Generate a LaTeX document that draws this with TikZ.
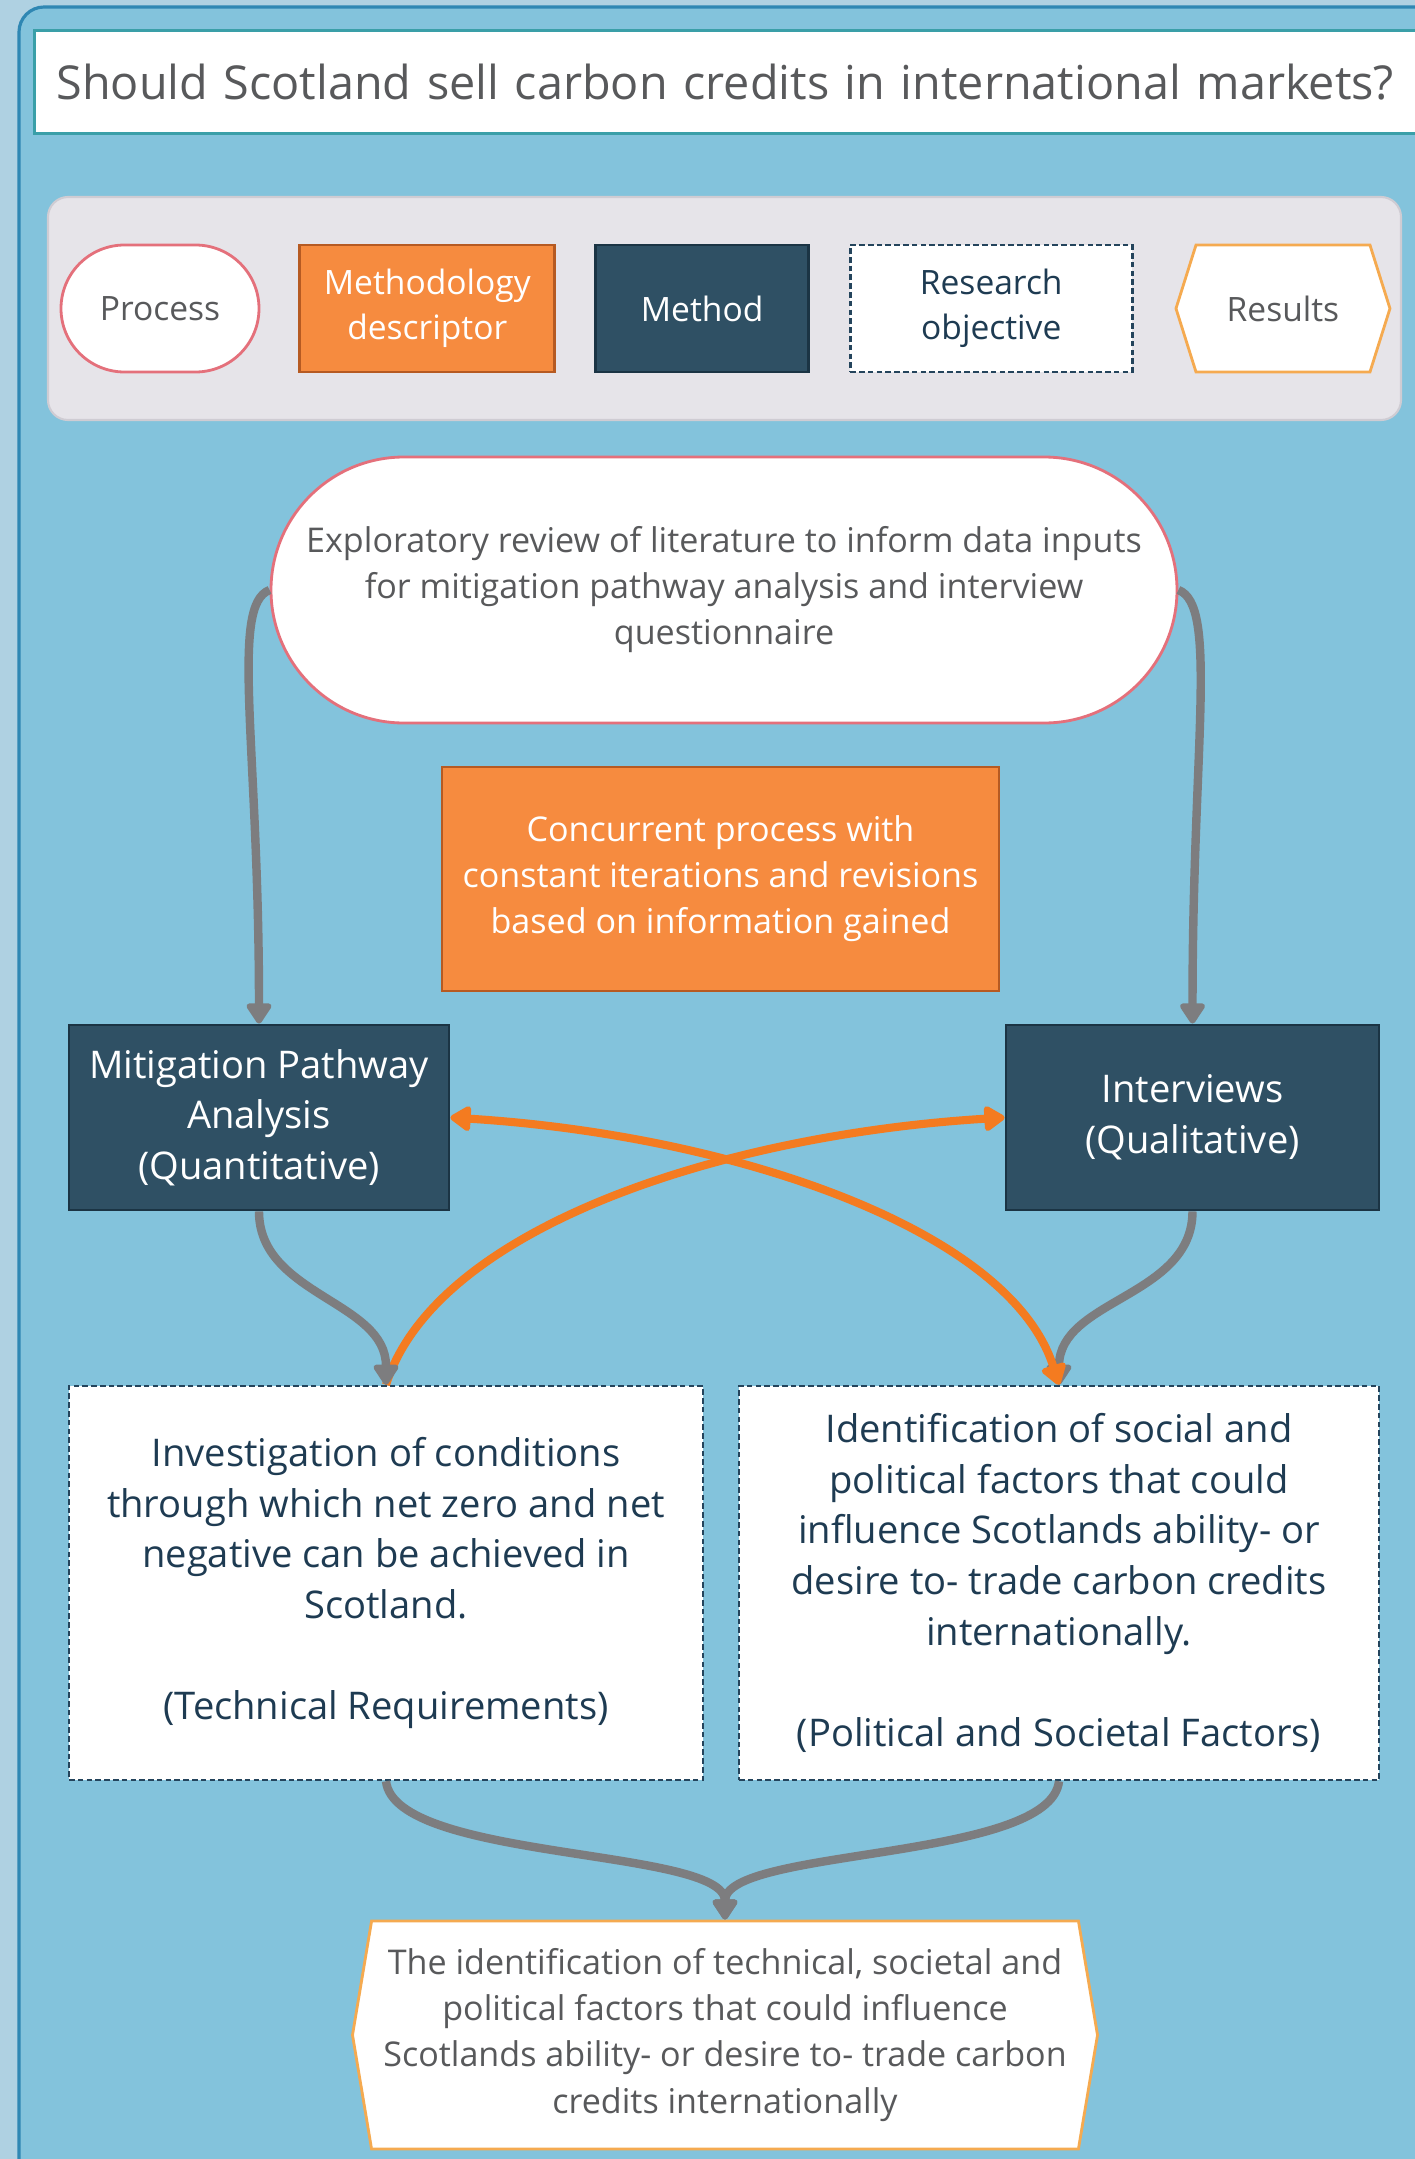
\documentclass[tikz,border=0pt]{standalone}
\usepackage{fontspec}
\setmainfont{Open Sans}
\usetikzlibrary{positioning, arrows.meta, shapes.misc, shapes.symbols}

\definecolor{paleedge}{HTML}{AFD1E2}
\definecolor{skyfill}{HTML}{83C3DC}
\definecolor{skyedge}{HTML}{2F87B3}
\definecolor{titleline}{HTML}{3A9FA8}
\definecolor{legendbg}{HTML}{E6E4E9}
\definecolor{legendln}{HTML}{CFCCD3}
\definecolor{procline}{HTML}{E4707B}
\definecolor{descfill}{HTML}{F68B3F}
\definecolor{descline}{HTML}{B65A22}
\definecolor{methfill}{HTML}{2F5064}
\definecolor{methline}{HTML}{1B3444}
\definecolor{objline}{HTML}{24445C}
\definecolor{objtext}{HTML}{1E3B52}
\definecolor{resline}{HTML}{F5AA50}
\definecolor{greytext}{HTML}{58595B}
\definecolor{flowgrey}{HTML}{7D7D7F}
\definecolor{floworange}{HTML}{F47B20}

\begin{document}
\begin{tikzpicture}[
		process/.style={rounded rectangle, draw=procline, line width=0.8pt, fill=white, text=greytext, align=center, inner sep=0pt},
		descriptor/.style={rectangle, draw=descline, line width=0.8pt, fill=descfill, text=white, align=center, inner sep=0pt},
		method/.style={rectangle, draw=methline, line width=0.8pt, fill=methfill, text=white, align=center, inner sep=0pt},
		objective/.style={rectangle, draw=objline, line width=0.7pt, dash pattern=on 1.6pt off 0.9pt, fill=white, text=objtext, align=center, inner sep=0pt},
		results/.style={signal, signal to=east and west, draw=resline, line width=0.8pt, fill=white, text=greytext, align=center, inner sep=0pt},
		keyitem/.style={minimum height=1.27cm, font=\fontsize{9.55}{12.8}\selectfont},
		smalltxt/.style={font=\fontsize{9.7}{13.1}\selectfont},
		bigtxt/.style={font=\fontsize{10.85}{14.4}\selectfont},
		greyflow/.style={draw=flowgrey, line width=2.4pt, -{Triangle[length=6.5pt,width=8pt,round]}},
		orangeflow/.style={draw=floworange, line width=2.3pt, >={Triangle[length=6.5pt,width=8pt,round]}}
	]
	\useasboundingbox (0,0) rectangle (14.15,-21.59);
	\clip (0,0) rectangle (14.15,-21.59);

	% background and frame
	\fill[paleedge] (0,0) rectangle (14.15,-21.59);
	\filldraw[fill=skyfill, draw=skyedge, line width=0.9pt, rounded corners=0.25cm] (0.19,-0.07) rectangle (15,-22.5);

	% question
	\node[draw=titleline, line width=0.8pt, fill=white, anchor=north west, minimum height=1.03cm,
		text width=13.6cm, inner xsep=0.22cm, align=left, text=greytext,
		font=\fontsize{13.3}{16}\selectfont] (question) at (0.33,-0.29)
		{Should Scotland sell carbon credits in international markets?};

	% key
	\filldraw[fill=legendbg, draw=legendln, line width=0.6pt, rounded corners=0.2cm] (0.48,-1.97) rectangle (14.01,-4.20);
	\node[process, keyitem, minimum width=1.98cm] (kproc) at (1.60,-3.085) {Process};
	\node[descriptor, keyitem, minimum width=2.55cm, right=0.38cm of kproc] (kdesc) {Methodology\\descriptor};
	\node[method, keyitem, minimum width=2.13cm, right=0.38cm of kdesc] (kmeth) {Method};
	\node[objective, keyitem, minimum width=2.82cm, right=0.39cm of kmeth] (kobj) {Research\\objective};
	\node[results, keyitem, minimum width=2.14cm, signal pointer angle=145, right=0.41cm of kobj] (kres) {Results};

	% flow
	\node[process, smalltxt, minimum width=9.06cm, minimum height=2.66cm] (review) at (7.24,-5.90)
		{Exploratory review of literature to inform data inputs\\for mitigation pathway analysis and interview\\questionnaire};
	\node[descriptor, smalltxt, minimum width=5.57cm, minimum height=2.24cm] (concur) at (7.205,-8.79)
		{Concurrent process with\\constant iterations and revisions\\based on information gained};
	\node[method, bigtxt, minimum width=3.80cm, minimum height=1.85cm] (mitig) at (2.59,-11.175)
		{Mitigation Pathway\\Analysis\\(Quantitative)};
	\node[method, bigtxt, minimum width=3.73cm, minimum height=1.85cm] (interv) at (11.925,-11.175)
		{Interviews\\(Qualitative)};
	\node[objective, bigtxt, minimum width=6.34cm, minimum height=3.94cm] (techn) at (3.86,-15.83)
		{Investigation of conditions\\through which net zero and net\\negative can be achieved in\\Scotland.\\[14.4pt](Technical Requirements)};
	\node[objective, bigtxt, minimum width=6.40cm, minimum height=3.94cm] (polit) at (10.59,-15.83)
		{Identification of social and\\political factors that could\\influence Scotlands ability- or\\desire to- trade carbon credits\\internationally.\\[14.4pt](Political and Societal Factors)};
	\node[results, smalltxt, minimum width=7.45cm, minimum height=2.28cm, signal pointer angle=161] (outcome) at (7.25,-20.35)
		{The identification of technical, societal and\\political factors that could influence\\Scotlands ability- or desire to- trade carbon\\credits internationally};

	% connectors
	\draw[greyflow] (review.west) .. controls +(-0.4,-0.15) and +(0,2.8) .. (mitig.north);
	\draw[greyflow] (review.east) .. controls +(0.4,-0.15) and +(0,2.8) .. (interv.north);
	\draw[orangeflow, ->] (techn.north) .. controls +(0.49,1.56) and +(-2.85,-0.175) .. (interv.west);
	\draw[greyflow] (mitig.south) to[out=-90,in=90] (techn.north);
	\draw[greyflow] (interv.south) to[out=-90,in=90] (polit.north);
	\draw[orangeflow, <->] (mitig.east) .. controls +(2.81,-0.175) and +(-0.49,1.56) .. (polit.north);
	\draw[greyflow] (techn.south) .. controls +(0.09,-0.8) and +(0,0.72) .. (outcome.north);
	\draw[greyflow] (polit.south) .. controls +(-0.09,-0.8) and +(0,0.72) .. (outcome.north);
\end{tikzpicture}
\end{document}
